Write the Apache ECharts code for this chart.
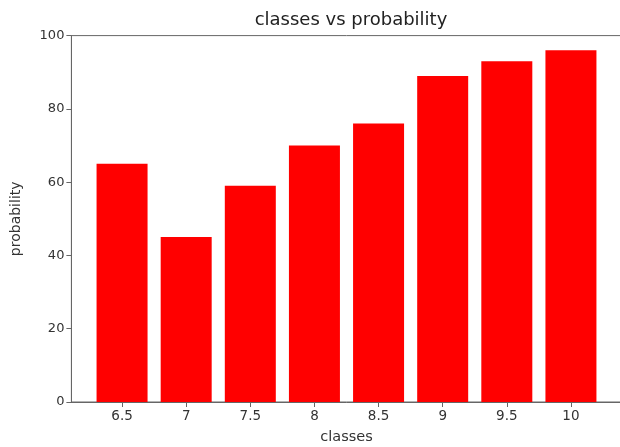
<!DOCTYPE html>
<html>
<head>
<meta charset="utf-8">
<script src="https://cdn.jsdelivr.net/npm/echarts@6/dist/echarts.min.js"></script>
<style>html,body{margin:0;padding:0;background:#fff;overflow:hidden;width:620px;height:447px;}#c{width:630px;height:447px;}</style>
</head>
<body>
<div id="c"></div>
<script>
const categories = ['6.5', '7', '7.5', '8', '8.5', '9', '9.5', '10'];
const probability = [65, 45, 59, 70, 76, 89, 93, 96];
const yTicks = [0, 20, 40, 60, 80, 100];

const idx = categories.map((c, i) => i);
const font = 'DejaVu Sans';
const chart = echarts.init(document.getElementById('c'));
chart.setOption({
  animation: false,
  backgroundColor: '#fff',
  title: {
    text: 'classes vs probability',
    left: 346, top: 6, textAlign: 'center',
    textStyle: {fontFamily: font, fontSize: 18, fontWeight: 'normal', color: '#222'}
  },
  grid: {
    left: 71.4, right: 8.4, top: 35.6, bottom: 45,
    outerBoundsMode: 'none', containLabel: false,
    show: true, borderColor: '#666', borderWidth: 1, backgroundColor: 'transparent'
  },
  xAxis: {
    type: 'value', min: -0.79, max: 7.79,
    name: 'classes', nameLocation: 'middle', nameGap: 28,
    nameTextStyle: {fontFamily: font, fontSize: 14.5, color: '#333'},
    splitLine: {show: false},
    axisLine: {show: true, onZero: false, lineStyle: {color: '#666', width: 1}},
    axisTick: {show: true, length: 5, customValues: idx, lineStyle: {color: '#666'}},
    axisLabel: {
      customValues: idx, margin: 7,
      formatter: v => categories[Math.round(v)],
      fontFamily: font, fontSize: 13.5, color: '#333'
    }
  },
  yAxis: {
    type: 'value', min: 0, max: 100, interval: 20,
    name: 'probability', nameLocation: 'middle', nameGap: 48, nameRotate: 90,
    nameTextStyle: {fontFamily: font, fontSize: 14, color: '#333'},
    splitLine: {show: false},
    axisLine: {show: true, onZero: false, lineStyle: {color: '#666', width: 1}},
    axisTick: {show: true, length: 5, lineStyle: {color: '#666'}},
    axisLabel: {
      margin: 7, fontFamily: font, fontSize: 13, color: '#333',
      formatter: v => yTicks.includes(v) ? String(v) : ''
    }
  },
  series: [{
    type: 'bar',
    barWidth: 51,
    itemStyle: {color: '#ff0000'},
    data: probability.map((v, i) => [idx[i], v])
  }]
});
</script>
</body>
</html>
